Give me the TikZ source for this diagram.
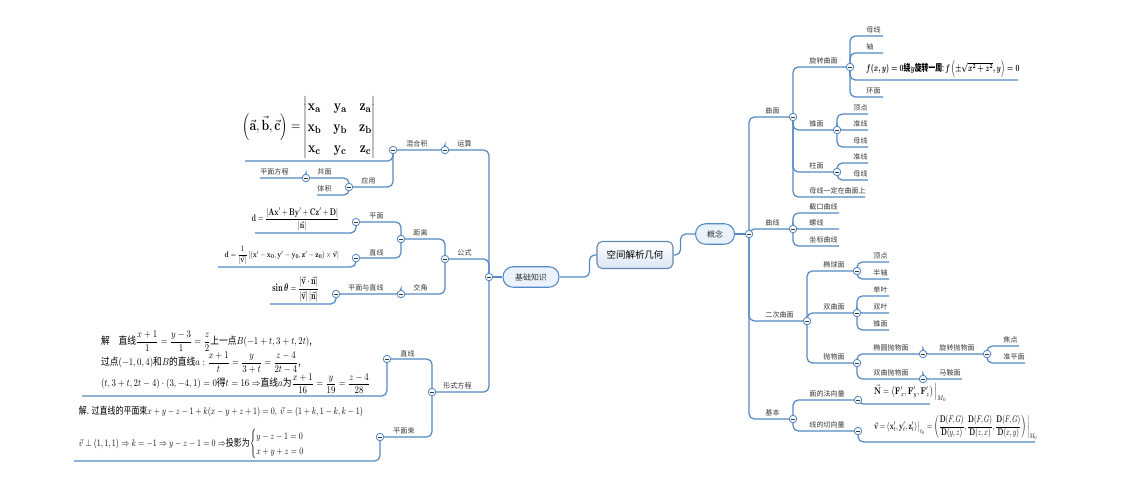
\documentclass[tikz,border=0pt]{standalone}
\usepackage{amsmath}
\usepackage{amssymb}
\usepackage{graphicx}
\usepackage[no-math]{fontspec}
\newfontfamily\cjk{Noto Sans CJK SC}
\usetikzlibrary{calc}
\definecolor{linkc}{RGB}{84,137,196}
\definecolor{txtc}{RGB}{55,55,55}
\definecolor{rootfill}{RGB}{219,231,245}
\definecolor{mainfill}{RGB}{234,242,251}
\newcommand{\rbranch}[6][lbl]{%
  \coordinate (#2) at (#4,#5);
  \draw[link] (#3) |- (#2);
  \node[#1, anchor=south west] (#2-t) at ($(#3|-#2)+(14,0)$) {#6};}
\newcommand{\lbranch}[6][lbl]{%
  \coordinate (#2) at (#4,#5);
  \draw[link] (#3) |- (#2);
  \node[#1, anchor=south east] (#2-t) at ($(#3|-#2)+(-15,0)$) {#6};}
\newcommand{\fm}[3]{\scalebox{#1}[#2]{#3}}
\newcommand{\fmlines}[3]{\scalebox{#1}[#2]{\begin{tabular}{@{}l@{}}#3\end{tabular}}}
\tikzset{
  link/.style={draw=linkc, line width=0.7pt, rounded corners=3pt},
  lbl/.style={font=\cjk\fontsize{4}{5}\selectfont, text=txtc, inner sep=1.2pt},
  fml/.style={font=\cjk\fontsize{10}{12}\selectfont, text=black, inner sep=1pt},
  fold/.style={circle, draw=linkc, fill=white, line width=0.5pt, minimum size=0.15cm, inner sep=0pt,
    path picture={\draw[txtc, line width=0.35pt] ([xshift=1.1pt]path picture bounding box.west) -- ([xshift=-1.1pt]path picture bounding box.east);}},
  root/.style={draw=linkc!70!gray, line width=0.6pt, rounded corners=3pt, top color=white, bottom color=rootfill,
    minimum width=1.52cm, minimum height=0.54cm, font=\cjk\fontsize{5.4}{6}\selectfont, text=black},
  main/.style={draw=linkc, line width=0.6pt, rounded corners=0.2cm, fill=mainfill,
    minimum height=0.41cm, font=\cjk\fontsize{4.5}{5}\selectfont, text=txtc}
}
\begin{document}
\begin{tikzpicture}[x=0.02cm, y=-0.02cm]
  \useasboundingbox (0,0) rectangle (1128,487);

  \node[root] (root) at (635,255) {空间解析几何};
  \node[main, minimum width=0.78cm] (gn) at (715,234) {概念};
  \node[main, minimum width=1.12cm] (jczs) at (531,277) {基础知识};
  \coordinate (kn) at (749,234);
  \coordinate (jc) at (489,277);
  \draw[link] (root.east) -- ++(7,0) |- (gn.west);
  \draw[link] (root.west) -- ++(-7,0) |- (jczs.east);
  \draw[link] (gn.east) -- (kn);
  \draw[link] (jczs.west) -- (jc);

  % 概念
  \rbranch{qm}{kn}{793}{117}{曲面}
  \rbranch{qx}{kn}{793}{229}{曲线}
  \rbranch{ec}{kn}{807}{321}{二次曲面}
  \rbranch{jb}{kn}{793}{419}{基本}

  \rbranch{xz}{qm}{850}{67}{旋转曲面}
  \rbranch{zm}{qm}{837}{130}{锥面}
  \rbranch{cm}{qm}{837}{172}{柱面}
  \rbranch{mq}{qm}{865}{197}{母线一定在曲面上}

  \rbranch{xz1}{xz}{883}{36}{母线}
  \rbranch{xz2}{xz}{883}{53}{轴}
  \rbranch[fml]{xz3}{xz}{1018}{80}{\fm{0.39}{0.55}{$\boldsymbol{f(x,y)=0}$\textbf{绕}$\boldsymbol{y}$\textbf{旋转一周}:\,$\boldsymbol{f\left(\pm\sqrt{x^2+z^2},y\right)=0}$}}
  \rbranch{xz4}{xz}{883}{97}{环面}

  \rbranch{zm1}{zm}{868}{114}{顶点}
  \rbranch{zm2}{zm}{868}{130}{准线}
  \rbranch{zm3}{zm}{868}{147}{母线}
  \rbranch{cm1}{cm}{868}{163}{准线}
  \rbranch{cm2}{cm}{868}{180}{母线}

  \rbranch{qx1}{qx}{839}{213}{截口曲线}
  \rbranch{qx2}{qx}{839}{229}{螺线}
  \rbranch{qx3}{qx}{839}{246}{坐标曲线}

  \rbranch{tq}{ec}{857}{271}{椭球面}
  \rbranch{sq}{ec}{857}{313}{双曲面}
  \rbranch{pw}{ec}{857}{363}{抛物面}
  \rbranch{tq1}{tq}{889}{262}{顶点}
  \rbranch{tq2}{tq}{889}{279}{半轴}
  \rbranch{sq1}{sq}{889}{296}{单叶}
  \rbranch{sq2}{sq}{889}{313}{双叶}
  \rbranch{sq3}{sq}{889}{330}{锥面}
  \rbranch{tp}{pw}{923}{354}{椭圆抛物面}
  \rbranch{sp}{pw}{923}{379}{双曲抛物面}
  \rbranch{xp}{tp}{987}{354}{旋转抛物面}
  \rbranch{xp1}{xp}{1019}{346}{焦点}
  \rbranch{xp2}{xp}{1025}{363}{准平面}
  \rbranch{sp1}{sp}{962}{379}{马鞍面}

  \rbranch{fx}{jb}{858}{400}{面的法向量}
  \rbranch{qxl}{jb}{858}{431}{线的切向量}
  \rbranch[fml]{fx1}{fx}{930}{404}{\fm{0.44}{0.55}{$\vec{\mathbf N}=\left(\mathbf F'_x,\mathbf F'_y,\mathbf F'_z\right)\Big|_{M_0}$}}
  \rbranch[fml]{qxl1}{qxl}{1035}{442}{\fm{0.38}{0.55}{$\vec{\mathbf v}=\left(\mathbf x'_t,\mathbf y'_t,\mathbf z'_t\right)\big|_{t_0}=\left(\dfrac{\mathbf D(F,G)}{\mathbf D(y,z)},\dfrac{\mathbf D(F,G)}{\mathbf D(z,x)},\dfrac{\mathbf D(F,G)}{\mathbf D(x,y)}\right)\bigg|_{M_0}$}}

  % 基础知识
  \lbranch{ys}{jc}{445}{150}{运算}
  \lbranch{gs}{jc}{445}{259}{公式}
  \lbranch{xs}{jc}{432}{392}{形式方程}

  \lbranch{hh}{ys}{393}{150}{混合积}
  \lbranch[fml]{hh1}{hh}{245}{161}{\fm{0.68}{0.84}{\renewcommand{\arraystretch}{1.2}$\left(\vec{\mathbf a},\vec{\mathbf b},\vec{\mathbf c}\right)=\begin{vmatrix}\mathbf{x_a}&\mathbf{y_a}&\mathbf{z_a}\\\mathbf{x_b}&\mathbf{y_b}&\mathbf{z_b}\\\mathbf{x_c}&\mathbf{y_c}&\mathbf{z_c}\end{vmatrix}$}}
  \lbranch{yy}{hh}{349}{187}{应用}
  \lbranch{gm}{yy}{306}{178}{共面}
  \lbranch{tj}{yy}{317}{195}{体积}
  \lbranch{pf}{gm}{260}{178}{平面方程}

  \lbranch{jl}{gs}{401}{239}{距离}
  \lbranch{jj}{gs}{401}{294}{交角}
  \lbranch{jp}{jl}{356}{222}{平面}
  \lbranch{jz}{jl}{356}{258}{直线}
  \lbranch[fml]{jp1}{jp}{255}{233}{\fm{0.4}{0.55}{$\mathbf d=\dfrac{\left|\mathbf{Ax'+By'+Cz'+D}\right|}{\left|\vec{\mathbf n}\right|}$}}
  \lbranch[fml]{jz1}{jz}{218}{267}{\fm{0.38}{0.47}{$\mathbf d=\dfrac{1}{\left|\vec{\mathbf v}\right|}\left|\left(\mathbf{x'-x_0,y'-y_0,z'-z_0}\right)\times\vec{\mathbf v}\right|$}}
  \lbranch{pz}{jj}{336}{294}{平面与直线}
  \lbranch[fml]{pz1}{pz}{270}{304}{\fm{0.42}{0.62}{$\boldsymbol{\sin\theta}=\dfrac{\left|\vec{\mathbf v}\cdot\vec{\mathbf n}\right|}{\left|\vec{\mathbf v}\right|\left|\vec{\mathbf n}\right|}$}}

  \lbranch{xl}{xs}{387}{359}{直线}
  \lbranch{ps}{xs}{380}{437}{平面束}
  \lbranch[fml]{xl1}{xl}{82}{396}{\fmlines{0.5}{0.58}{解\quad 直线$\dfrac{x+1}{1}=\dfrac{y-3}{1}=\dfrac{z}{2}$上一点$B(-1+t,3+t,2t)$,\\[4pt]
    过点$(-1,0,4)$和$B$的直线$a:\dfrac{x+1}{t}=\dfrac{y}{3+t}=\dfrac{z-4}{2t-4}$,\\[4pt]
    $(t,3+t,2t-4)\cdot(3,-4,1)=0$得$t=16\Rightarrow$直线$a$为$\dfrac{x+1}{16}=\dfrac{y}{19}=\dfrac{z-4}{28}$}}
  \lbranch[fml]{ps1}{ps}{74}{461}{\fmlines{0.455}{0.56}{解. 过直线的平面束$x+y-z-1+k(x-y+z+1)=0,\ \vec v=(1+k,1-k,k-1)$\\[12pt]
    $\vec v\perp(1,1,1)\Rightarrow k=-1\Rightarrow y-z-1=0\Rightarrow$投影为$\begin{cases}y-z-1=0\\x+y+z=0\end{cases}$}}

  \foreach \c in {kn,jc,qm,qx,ec,jb,xz,zm,cm,tq,sq,pw,tp,sp,xp,fx,qxl,ys,gs,xs,hh,yy,gm,jl,jj,jp,jz,pz,xl,ps}
    \node[fold] at (\c) {};
\end{tikzpicture}
\end{document}
